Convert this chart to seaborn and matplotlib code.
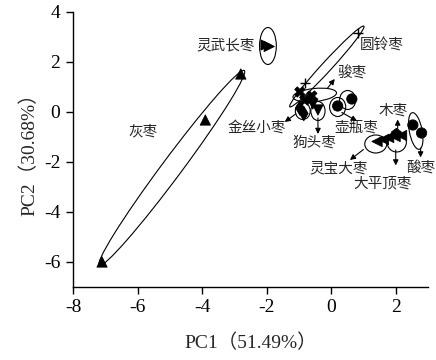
import matplotlib
matplotlib.use("Agg")
import matplotlib.pyplot as plt
from matplotlib.patches import Ellipse
import seaborn as sns
import pandas as pd

# ---- data ----
groups = ['灰枣', '灵武长枣', '圆铃枣', '骏枣', '金丝小枣', '狗头枣',
          '壶瓶枣', '灵宝大枣', '大平顶枣', '木枣', '酸枣']
pt_group = ['灰枣', '灰枣', '灰枣',
            '灵武长枣', '灵武长枣',
            '圆铃枣', '圆铃枣',
            '骏枣', '骏枣', '骏枣',
            '金丝小枣', '金丝小枣',
            '狗头枣', '狗头枣',
            '壶瓶枣', '壶瓶枣',
            '灵宝大枣', '灵宝大枣',
            '大平顶枣', '大平顶枣', '大平顶枣',
            '木枣',
            '酸枣', '酸枣']
pc1 = [-7.10, -3.90, -2.80,
       -2.02, -1.92,
       0.82, -0.82,
       -0.97, -0.60, -0.82,
       -0.97, -0.85,
       -0.57, -0.41,
       0.20, 0.64,
       1.42, 1.62,
       1.78, 1.98, 2.18,
       2.02,
       2.53, 2.80]
pc2 = [-6.00, -0.32, 1.52,
       2.68, 2.62,
       3.16, 1.16,
       0.80, 0.64, 0.48,
       0.16, -0.06,
       0.32, 0.08,
       0.24, 0.52,
       -1.18, -1.10,
       -1.02, -0.98, -0.94,
       -0.86,
       -0.52, -0.84]

# confidence ellipses (centre, full width, full height, angle in data units)
ell_cx = [-4.94, -1.96, -0.135, -0.51, -0.88, -0.41, 0.20, 0.51, 1.38, 2.03, 2.62]
ell_cy = [-2.24, 2.64, 1.82, 0.68, 0.04, 0.04, 0.20, 0.48, -1.28, -1.20, -0.76]
ell_w = [9.0, 0.52, 3.96, 1.36, 0.46, 0.44, 0.50, 0.50, 0.68, 0.60, 0.40]
ell_h = [0.66, 1.48, 0.34, 0.52, 0.68, 0.76, 0.76, 0.76, 0.72, 0.80, 1.48]
ell_ang = [60.1, 0, 54.7, 8, 0, 0, 0, 0, 0, 0, 8]

xlabel = 'PC1（51.49%）'
ylabel = 'PC2（30.68%）'

df = pd.DataFrame({'PC1': pc1, 'PC2': pc2, 'group': pt_group})

marker_map = {'灰枣': '^', '灵武长枣': '>', '圆铃枣': '+', '骏枣': 'X',
              '金丝小枣': 'd', '狗头枣': 'v', '壶瓶枣': 'o', '灵宝大枣': '<',
              '大平顶枣': '<', '木枣': 'p', '酸枣': 'o'}

sns.set_style('ticks')
plt.rcParams['font.family'] = ['Liberation Serif', 'Noto Sans CJK SC']
plt.rcParams['axes.unicode_minus'] = False

fig = plt.figure(figsize=(4.36, 3.6), dpi=100)
ax = fig.add_axes([0.1674, 0.2028, 0.8143, 0.7639])

filled = df[df['group'] != '圆铃枣']
line_art = df[df['group'] == '圆铃枣']
sns.scatterplot(data=filled, x='PC1', y='PC2', style='group',
                markers={g: marker_map[g] for g in filled['group'].unique()},
                color='black', edgecolor='black', s=55, legend=False, ax=ax, zorder=3)
sns.scatterplot(data=line_art, x='PC1', y='PC2', marker='+', color='black',
                s=45, linewidth=1.0, legend=False, ax=ax, zorder=3)

for cx, cy, w, h, a in zip(ell_cx, ell_cy, ell_w, ell_h, ell_ang):
    ax.add_patch(Ellipse((cx, cy), w, h, angle=a, facecolor='none',
                         edgecolor='black', lw=0.8, zorder=4))

cjk = ['Noto Sans CJK SC']
fs = 10.5
# labels without arrows
ax.text(-5.83, -0.76, '灰枣', fontsize=fs, family=cjk, ha='center', va='center')
ax.text(-3.26, 2.68, '灵武长枣', fontsize=fs, family=cjk, ha='center', va='center')
ax.text(1.57, 2.64, '圆铃枣', fontsize=fs, family=cjk, ha='center', va='center')

arrow_kw = dict(arrowstyle='-|>', color='black', lw=0.8, mutation_scale=8,
                shrinkA=0, shrinkB=0)
# (label, label pos, arrow start, arrow end)
ann = [
    ('骏枣', (0.66, 1.56), (-0.11, 0.96), (0.11, 1.32)),
    ('金丝小枣', (-2.30, -0.64), (-1.10, -0.08), (-1.44, -0.40)),
    ('狗头枣', (-0.51, -1.24), (-0.41, -0.24), (-0.41, -0.88)),
    ('壶瓶枣', (0.79, -0.64), (0.33, -0.02), (0.80, -0.36)),
    ('灵宝大枣', (0.24, -2.24), (1.00, -1.50), (0.58, -1.92)),
    ('大平顶枣', (1.60, -2.84), (2.00, -1.52), (2.00, -2.14)),
    ('木枣', (1.91, 0.04), (2.06, -0.96), (2.06, -0.30)),
    ('酸枣', (2.77, -2.24), (2.77, -1.44), (2.77, -1.82)),
]
for lab, lp, a0, a1 in ann:
    ax.text(lp[0], lp[1], lab, fontsize=fs, family=cjk, ha='center', va='center')
    ax.annotate('', xy=a1, xytext=a0, arrowprops=arrow_kw, zorder=5)

ax.set_xlim(-8, 3)
ax.set_ylim(-7, 4)
ax.set_xticks([-8, -6, -4, -2, 0, 2])
ax.set_yticks([-6, -4, -2, 0, 2, 4])
ax.tick_params(direction='out', length=5, width=1, labelsize=14, pad=4, colors='black')
for lab in ax.get_xticklabels() + ax.get_yticklabels():
    lab.set_family('Liberation Serif')
ax.spines['top'].set_visible(False)
ax.spines['right'].set_visible(False)
for s in ['left', 'bottom']:
    ax.spines[s].set_linewidth(1.0)
    ax.spines[s].set_color('black')
ax.set_xlabel(xlabel, fontsize=14, family=['Liberation Serif', 'Noto Sans CJK SC'], labelpad=12)
ax.set_ylabel(ylabel, fontsize=14, family=['Liberation Serif', 'Noto Sans CJK SC'], labelpad=4)

fig.savefig('out.png', dpi=100)
